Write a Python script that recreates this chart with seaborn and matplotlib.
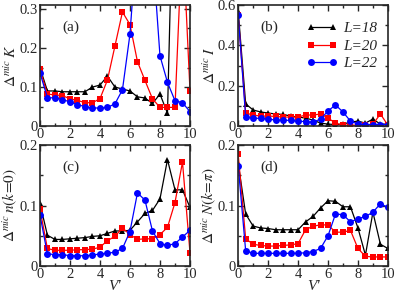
import numpy as np
import pandas as pd
import matplotlib
matplotlib.use("Agg")
import matplotlib.pyplot as plt
import seaborn as sns
from matplotlib.ticker import MultipleLocator

# V' grid 0, 0.5, ..., 10
vp = [0, 0.5, 1, 1.5, 2, 2.5, 3, 3.5, 4, 4.5, 5, 5.5, 6, 6.5, 7, 7.5, 8, 8.5, 9, 9.5, 10]

# (a) Delta K
K_18 = [0.150, 0.090, 0.090, 0.088, 0.088, 0.088, 0.088, 0.100, 0.105, 0.128, 0.100, 0.095,
        0.090, 0.075, 0.072, 0.058, 0.082, 0.033, 0.800, 0.600, 0.500]
K_20 = [0.145, 0.082, 0.080, 0.078, 0.070, 0.066, 0.060, 0.060, 0.070, 0.118, 0.205, 0.292,
        0.260, 0.165, 0.117, 0.070, 0.048, 0.048, 0.048, 0.500, 0.090]
K_22 = [0.137, 0.073, 0.072, 0.068, 0.062, 0.055, 0.050, 0.047, 0.046, 0.048, 0.057, 0.093,
        0.235, 0.500, 0.600, 0.450, 0.180, 0.112, 0.065, 0.060, 0.037]

# (b) Delta I
I_18 = [0.570, 0.110, 0.080, 0.070, 0.065, 0.060, 0.058, 0.050, 0.045, 0.040, 0.030, 0.015,
        0.010, 0.008, 0.010, 0.020, 0.025, 0.015, 0.035, 0.010, 0.010]
I_20 = [0.550, 0.065, 0.055, 0.050, 0.050, 0.048, 0.045, 0.045, 0.045, 0.055, 0.055, 0.060,
        0.040, 0.015, 0.005, 0.005, 0.005, 0.005, 0.010, 0.060, 0.005]
I_22 = [0.550, 0.045, 0.040, 0.038, 0.035, 0.030, 0.030, 0.028, 0.025, 0.022, 0.020, 0.035,
        0.075, 0.105, 0.070, 0.025, 0.010, 0.008, 0.008, 0.008, 0.008]

# (c) Delta n(k=0)
n_18 = [0.104, 0.051, 0.044, 0.044, 0.045, 0.046, 0.047, 0.049, 0.050, 0.054, 0.058, 0.058,
        0.059, 0.073, 0.087, 0.092, 0.111, 0.176, 0.126, 0.126, 0.097]
n_20 = [0.095, 0.029, 0.026, 0.026, 0.026, 0.027, 0.027, 0.028, 0.031, 0.042, 0.049, 0.063,
        0.052, 0.044, 0.045, 0.045, 0.052, 0.064, 0.105, 0.172, 0.022]
n_22 = [0.085, 0.020, 0.019, 0.019, 0.017, 0.017, 0.017, 0.018, 0.020, 0.021, 0.023, 0.029,
        0.057, 0.121, 0.109, 0.058, 0.037, 0.034, 0.037, 0.048, 0.059]

# (d) Delta N(k=pi)
N_18 = [0.170, 0.086, 0.066, 0.063, 0.062, 0.060, 0.060, 0.060, 0.060, 0.073, 0.082, 0.096,
        0.108, 0.107, 0.098, 0.098, 0.063, 0.018, 0.089, 0.036, 0.029]
N_20 = [0.185, 0.045, 0.036, 0.034, 0.033, 0.033, 0.034, 0.035, 0.037, 0.060, 0.066, 0.068,
        0.068, 0.056, 0.056, 0.059, 0.029, 0.016, 0.015, 0.015, 0.015]
N_22 = [0.166, 0.025, 0.021, 0.021, 0.021, 0.021, 0.021, 0.021, 0.021, 0.022, 0.024, 0.029,
        0.050, 0.086, 0.085, 0.073, 0.078, 0.082, 0.089, 0.103, 0.097]

sizes = ["L=18", "L=20", "L=22"]
panels = [
    ("(a)", r"$\Delta^{mic}\,K$", [K_18, K_20, K_22], 0.31, 0.1),
    ("(b)", r"$\Delta^{mic}\,I$", [I_18, I_20, I_22], 0.6, 0.2),
    ("(c)", r"$\Delta^{mic}\,n(k\!=\!0)$", [n_18, n_20, n_22], 0.2, 0.1),
    ("(d)", r"$\Delta^{mic}\,N(k\!=\!\pi)$", [N_18, N_20, N_22], 0.2, 0.1),
]

sns.set_style("ticks")
plt.rcParams["font.family"] = ["Liberation Serif", "DejaVu Serif"]
plt.rcParams["mathtext.fontset"] = "stix"

colors = {"L=18": "black", "L=20": "#ff0000", "L=22": "#0000ff"}
markers = {"L=18": "^", "L=20": "s", "L=22": "o"}

fig = plt.figure(figsize=(3.95, 2.92), dpi=100)
rects = [
    [0.101, 0.568, 0.380, 0.415],
    [0.603, 0.568, 0.379, 0.415],
    [0.101, 0.089, 0.380, 0.414],
    [0.603, 0.089, 0.379, 0.414],
]

for i, (tag, ylab, series, ytop, ystep) in enumerate(panels):
    ax = fig.add_axes(rects[i])
    rows = []
    for lab, vals in zip(sizes, series):
        for x, y in zip(vp, vals):
            rows.append({"V": x, "val": y, "L": lab})
    df = pd.DataFrame(rows)
    sns.lineplot(data=df, x="V", y="val", hue="L", style="L", palette=colors,
                 markers=markers, dashes=False, markersize=5, linewidth=0.9,
                 markeredgewidth=0, ax=ax, legend=(i == 1))
    ax.set_xlim(0, 10)
    ax.set_ylim(0, ytop)
    ax.xaxis.set_major_locator(MultipleLocator(2))
    ax.xaxis.set_minor_locator(MultipleLocator(1))
    ax.yaxis.set_major_locator(MultipleLocator(ystep))
    ax.yaxis.set_minor_locator(MultipleLocator(ystep / 2))
    ax.yaxis.set_major_formatter(plt.FuncFormatter(lambda v, p: "0" if v == 0 else f"{v:g}"))
    ax.tick_params(which="both", direction="in", top=True, right=True, labelsize=10.5, pad=1.5)
    ax.tick_params(which="major", length=4, width=1)
    ax.tick_params(which="minor", length=2.5, width=1)
    for s in ax.spines.values():
        s.set_linewidth(1.2)
    ax.set_ylabel(ylab, fontsize=11, labelpad=0)
    if i >= 2:
        ax.set_xlabel("V'", fontsize=11, fontstyle="italic", labelpad=-1)
    else:
        ax.set_xlabel("")
    ax.text(0.15, 0.79, tag, transform=ax.transAxes, fontsize=11)
    if i == 1:
        leg = ax.legend(loc="upper right", bbox_to_anchor=(1.0, 0.95), frameon=False,
                        fontsize=11, handlelength=2.0, numpoints=2, labelspacing=0.25,
                        borderaxespad=0.3, handletextpad=0.4)
        for t in leg.get_texts():
            t.set_fontstyle("italic")

fig.savefig("out.png", dpi=100)
